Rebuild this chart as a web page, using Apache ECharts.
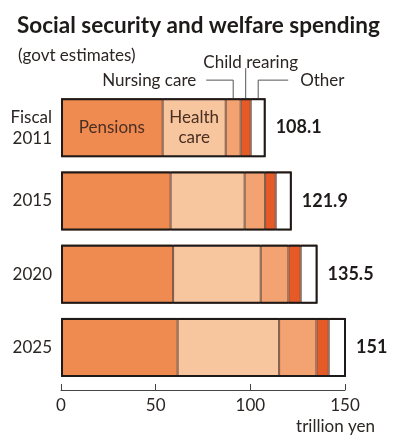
<!DOCTYPE html>
<html>
<head>
<meta charset="utf-8">
<script src="https://cdn.jsdelivr.net/npm/echarts@6/dist/echarts.min.js"></script>
<style>
  html, body { margin: 0; padding: 0; background: #fff; }
  #chart { width: 400px; height: 448px; }
</style>
</head>
<body>
<div id="chart"></div>
<script>
// data (trillion yen)
const years = ['Fiscal\n2011', '2015', '2020', '2025'];
const pensions = [53.7, 57.9, 59.2, 61.6];
const health = [33.3, 39.1, 46.3, 53.6];
const nursing = [7.9, 10.8, 14.6, 19.7];
const childRearing = [5.3, 5.6, 6.5, 6.5];
const other = [7.9, 8.5, 8.9, 9.6];
const totals = [108.1, 121.9, 135.5, 151];
const xTicks = [0, 50, 100, 150];

const FONT = 'Lato';
const TEXT = '#2b2523';
const FS = 17;
const BAR_W = 59;
const segBorder = '#7d5540';

const chart = echarts.init(document.getElementById('chart'));

function seg(name, data, color, firstLabel) {
    return {
        name: name,
        type: 'bar',
        stack: 'total',
        barWidth: BAR_W,
        data: data.map((v, i) => {
            // only the first bar carries the inside labels
            if (i === 0 && firstLabel) {
                return { value: v, label: { show: true, formatter: firstLabel } };
            }
            return v;
        }),
        itemStyle: { color: color, borderColor: segBorder, borderWidth: 1 },
        label: {
            show: false,
            position: 'inside',
            color: '#4a2f22',
            fontFamily: FONT,
            fontSize: FS,
            lineHeight: 20
        },
        silent: true
    };
}

chart.setOption({
    animation: false,
    title: [
        {
            text: 'Social security and welfare spending',
            left: 12, top: 9,
            textStyle: { fontFamily: FONT, fontWeight: 'bold', fontSize: 22.5, color: '#1e1a19' }
        },
        {
            text: '(govt estimates)',
            left: 13, top: 42,
            textStyle: { fontFamily: FONT, fontWeight: 'normal', fontSize: FS, color: TEXT }
        },
        {
            text: 'trillion yen',
            right: 20, top: 413,
            textStyle: { fontFamily: FONT, fontWeight: 'normal', fontSize: FS, color: TEXT }
        }
    ],
    grid: { left: 61, right: 55, top: 91, height: 293, containLabel: false },
    xAxis: {
        type: 'value',
        min: 0, max: 150, interval: 50,
        offset: 6,
        axisLine: { show: true, lineStyle: { color: '#444', width: 1 } },
        axisTick: { show: true, inside: true, length: 6, lineStyle: { color: '#444' } },
        splitLine: { show: false },
        axisLabel: {
            margin: 7,
            fontFamily: FONT, fontSize: FS, color: TEXT,
            formatter: v => xTicks.includes(v) ? String(v) : ''
        }
    },
    yAxis: {
        type: 'category',
        data: years,
        inverse: true,
        axisLine: { show: false },
        axisTick: { show: false },
        axisLabel: {
            margin: 9,
            fontFamily: FONT, fontSize: FS, color: TEXT, lineHeight: 21, align: 'right'
        }
    },
    series: [
        seg('Pensions', pensions, '#ef8a51', 'Pensions'),
        seg('Health care', health, '#f7c59e', 'Health\ncare'),
        seg('Nursing care', nursing, '#f3a372', null),
        seg('Child rearing', childRearing, '#e65a28', null),
        seg('Other', other, '#ffffff', null),
        {
            name: 'Total',
            type: 'bar',
            barWidth: BAR_W,
            barGap: '-100%',
            z: 5,
            data: totals,
            itemStyle: { color: 'rgba(0,0,0,0)', borderColor: '#1e1a19', borderWidth: 2 },
            label: {
                show: true,
                position: 'right',
                distance: 10,
                fontFamily: FONT, fontWeight: 'bold', fontSize: 18, color: '#1e1a19',
                formatter: p => String(p.value)
            },
            silent: true
        }
    ]
});

// leader lines for the small segments, placed from the first bar's layout
function segCenter(idx) {
    let start = 0;
    const parts = [pensions, health, nursing, childRearing, other];
    for (let k = 0; k < idx; k++) start += parts[k][0];
    const mid = start + parts[idx][0] / 2;
    return chart.convertToPixel({ gridIndex: 0 }, [mid, 0]);
}
const pN = segCenter(2), pC = segCenter(3), pO = segCenter(4);
const barTop = pN[1] - BAR_W / 2;
const lineStyle = { stroke: '#555', lineWidth: 1, fill: null };
const labelStyle = { fontFamily: FONT, fontSize: FS, fill: TEXT };

chart.setOption({
    graphic: [
        { type: 'polyline', shape: { points: [[pN[0] - 27, barTop - 18], [pN[0], barTop - 18], [pN[0], barTop]] }, style: lineStyle, silent: true },
        { type: 'text', x: pN[0] - 37, y: barTop - 18, style: Object.assign({ text: 'Nursing care', align: 'right', verticalAlign: 'middle' }, labelStyle) },
        { type: 'polyline', shape: { points: [[pC[0], barTop - 30], [pC[0], barTop]] }, style: lineStyle, silent: true },
        { type: 'text', x: pC[0] + 5, y: barTop - 36, style: Object.assign({ text: 'Child rearing', align: 'center', verticalAlign: 'middle' }, labelStyle) },
        { type: 'polyline', shape: { points: [[pO[0] + 30, barTop - 18], [pO[0], barTop - 18], [pO[0], barTop]] }, style: lineStyle, silent: true },
        { type: 'text', x: pO[0] + 42, y: barTop - 18, style: Object.assign({ text: 'Other', align: 'left', verticalAlign: 'middle' }, labelStyle) }
    ]
});
</script>
</body>
</html>
